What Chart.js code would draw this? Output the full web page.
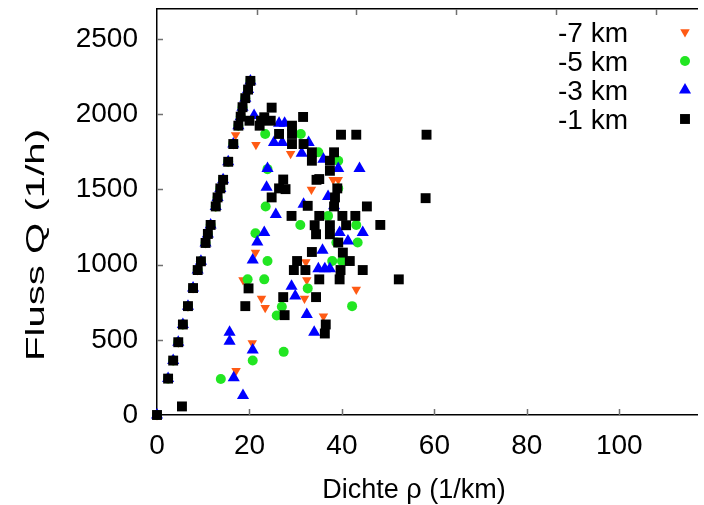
<!DOCTYPE html>
<html lang="de">
<head>
<meta charset="UTF-8">
<title>Fluss-Dichte-Diagramm</title>
<script src="https://cdn.jsdelivr.net/npm/chart.js"></script>
<style>
  body { margin: 0; background: #fff; }
  #wrap { position: relative; width: 704px; height: 505px; }
</style>
</head>
<body>
<div id="wrap"><canvas id="fd"></canvas></div>
<script>
// free flow branch, nearly the same for all four detectors
const freeRho = [0, 2.4, 3.5, 4.6, 5.6, 6.7, 7.8, 8.8, 9.5, 10.5, 11.0, 11.6, 12.7, 13.1, 13.7, 14.3, 15.4, 16.5, 17.6, 18.1, 18.5, 19.1, 19.7, 20.2];
const freeQ = [0, 242, 362, 484, 602, 724, 844, 964, 1022, 1144, 1204, 1264, 1387, 1447, 1507, 1564, 1684, 1802, 1924, 1984, 2047, 2107, 2164, 2222];

// congested points per detector
const rho7 = [17.0, 21.4, 28.9, 33.4, 38.1, 39.2, 21.3, 32.2, 18.6, 32.4, 43.1, 22.6, 31.9, 23.4, 36.0, 20.6, 17.1];
const q7 = [1862, 1797, 1737, 1500, 1564, 1564, 1080, 1017, 897, 897, 835, 775, 775, 713, 657, 478, 295];

const rho5 = [23.4, 31.1, 23.9, 34.9, 39.2, 39.2, 23.5, 31.0, 37.0, 43.1, 43.4, 21.3, 38.8, 23.9, 37.9, 40.0, 19.6, 23.2, 32.6, 42.2, 27.0, 25.9, 27.4, 20.7, 13.8];
const q5 = [1869, 1869, 1635, 1747, 1691, 1507, 1387, 1264, 1324, 1264, 1147, 1209, 1147, 1024, 1024, 1024, 902, 902, 842, 724, 720, 662, 420, 362, 240];

const rho3 = [21.0, 26.4, 27.6, 25.3, 27.1, 32.8, 31.3, 23.9, 36.0, 39.2, 43.8, 23.7, 31.7, 37.0, 25.7, 38.3, 23.2, 39.5, 44.5, 21.7, 41.3, 35.8, 20.7, 34.9, 36.3, 37.4, 29.1, 29.9, 32.4, 34.0, 15.7, 15.7, 20.7, 16.6, 18.6];
const q3 = [1991, 1940, 1940, 1813, 1813, 1813, 1740, 1640, 1700, 1640, 1640, 1515, 1402, 1453, 1333, 1391, 1213, 1213, 1213, 1151, 1157, 1095, 1031, 973, 973, 973, 857, 791, 669, 551, 551, 491, 433, 247, 129];

const rho1 = [24.8, 31.6, 20.0, 22.5, 24.6, 23.2, 22.2, 29.2, 26.4, 29.2, 29.2, 31.7, 33.5, 33.5, 38.3, 37.4, 39.8, 43.1, 58.3, 37.4, 35.1, 27.3, 39.0, 27.8, 26.4, 34.5, 24.8, 38.5, 58.1, 32.6, 38.3, 45.4, 29.1, 35.1, 40.1, 42.9, 48.3, 34.1, 37.4, 40.9, 34.4, 37.4, 39.2, 33.5, 40.2, 30.3, 41.7, 29.6, 32.1, 39.7, 44.5, 35.1, 39.5, 52.3, 19.8, 27.3, 34.4, 19.1, 27.6, 36.5, 36.3, 5.4];
const q1 = [2044, 1982, 1957, 1957, 1957, 1980, 1924, 1924, 1869, 1869, 1802, 1802, 1747, 1691, 1747, 1691, 1864, 1864, 1864, 1624, 1569, 1566, 1507, 1502, 1507, 1564, 1447, 1447, 1442, 1391, 1387, 1387, 1324, 1324, 1324, 1324, 1264, 1262, 1262, 1262, 1202, 1202, 1147, 1084, 1080, 1024, 1024, 964, 964, 964, 964, 902, 902, 902, 842, 784, 784, 724, 664, 602, 542, 57];

const seriesNames = ['-7 km', '-5 km', '-3 km', '-1 km'];
const xTickValues = [0, 20, 40, 60, 80, 100];
const yTickValues = [0, 500, 1000, 1500, 2000, 2500];
const topTickValues = [0, 20, 40, 60, 80, 100];

const FONT = '"Liberation Sans", Arial, sans-serif';

function pts(rho, q) {
    return freeRho.map((r, i) => ({ x: r, y: freeQ[i] }))
        .concat(rho.map((r, i) => ({ x: r, y: q[i] })));
}

const styles = [
    { color: '#ff5a14', pointStyle: 'triangle', radius: 5.5, rotation: 180 },
    { color: '#22e622', pointStyle: 'circle', radius: 5, rotation: 0 },
    { color: '#0000ff', pointStyle: 'triangle', radius: 7, rotation: 0 },
    { color: '#000000', pointStyle: 'rect', radius: 7, rotation: 0 }
];
const allData = [pts(rho7, q7), pts(rho5, q5), pts(rho3, q3), pts(rho1, q1)];

const datasets = seriesNames.map((name, i) => ({
    label: name,
    data: allData[i],
    order: 4 - i,          // -1 km drawn on top
    clip: false,
    pointStyle: styles[i].pointStyle,
    pointRadius: styles[i].radius,
    pointRotation: styles[i].rotation,
    pointBackgroundColor: styles[i].color,
    pointBorderWidth: 0,
    pointHoverRadius: styles[i].radius
}));

function fixTicks(values) {
    return function (scale) { scale.ticks = values.map(v => ({ value: v })); };
}

// fixed box sizes, no extra room for half labels
function fitTo(prop, size) {
    return function (s) {
        s[prop] = size;
        s.paddingTop = 0; s.paddingBottom = 0;
        s.paddingLeft = 0; s.paddingRight = 0;
    };
}

const framePlugin = {
    id: 'frame',
    beforeDatasetsDraw(chart) {
        const { ctx, chartArea: a, scales } = chart;
        ctx.save();
        ctx.strokeStyle = '#707070';
        ctx.lineWidth = 1.5;
        ctx.beginPath();
        scales.x.ticks.forEach(t => {
            if (t.value === 0) return;
            const px = Math.round(scales.x.getPixelForValue(t.value)) + 0.5;
            ctx.moveTo(px, a.bottom); ctx.lineTo(px, a.bottom - 6);
        });
        scales.x2.ticks.forEach(t => {
            if (t.value === 0) return;
            const px = Math.round(scales.x2.getPixelForValue(t.value)) + 0.5;
            ctx.moveTo(px, a.top); ctx.lineTo(px, a.top + 6);
        });
        scales.y.ticks.forEach(t => {
            if (t.value === 0) return;
            const py = Math.round(scales.y.getPixelForValue(t.value)) + 0.5;
            ctx.moveTo(a.left, py); ctx.lineTo(a.left + 6, py);
        });
        ctx.stroke();
        ctx.restore();
    },
    afterDraw(chart) {
        const { ctx } = chart;
        ctx.save();
        ctx.fillStyle = '#000';
        ctx.font = '27px ' + FONT;

        // x axis title
        ctx.textAlign = 'center';
        ctx.textBaseline = 'alphabetic';
        ctx.fillText('Dichte ρ (1/km)', 414, 498);

        // y axis title (stretched along its length like the original)
        const yTitle = 'Fluss Q (1/h)';
        ctx.font = '25px ' + FONT;
        const w = ctx.measureText(yTitle).width;
        ctx.save();
        ctx.translate(44, 245);
        ctx.rotate(-Math.PI / 2);
        ctx.scale(232 / w, 1);
        ctx.fillText(yTitle, 0, 0);
        ctx.restore();

        // legend: text on the left, marker on the right
        ctx.font = '28px ' + FONT;
        ctx.textAlign = 'right';
        seriesNames.forEach((name, i) => {
            const base = 42 + i * 29;
            ctx.fillStyle = '#000';
            ctx.fillText(name, 628, base);
            ctx.fillStyle = styles[i].color;
            Chart.helpers.drawPoint(ctx, {
                pointStyle: styles[i].pointStyle,
                radius: styles[i].radius,
                rotation: styles[i].rotation,
                borderWidth: 0
            }, 685, base - 10);
        });
        ctx.restore();
    }
};

new Chart(document.getElementById('fd'), {
    type: 'scatter',
    data: { datasets: datasets },
    options: {
        responsive: true,
        maintainAspectRatio: false,
        animation: false,
        layout: { padding: 0 },
        plugins: { legend: { display: false }, tooltip: { enabled: false } },
        scales: {
            x: {
                type: 'linear',
                position: 'bottom',
                min: 0,
                max: 116.8,
                afterBuildTicks: fixTicks(xTickValues),
                afterFit: fitTo('height', 90),
                grid: { display: false, drawTicks: false },
                border: { display: true, color: '#000', width: 1.5 },
                ticks: {
                    color: '#000', padding: 14, maxRotation: 0,
                    font: { family: FONT, size: 28 },
                    callback: v => String(v)
                }
            },
            x2: {
                type: 'linear',
                position: 'top',
                min: 0,
                max: 108.3,
                afterBuildTicks: fixTicks(topTickValues),
                afterFit: fitTo('height', 9),
                grid: { display: false, drawTicks: false },
                border: { display: true, color: '#000', width: 1.5 },
                ticks: { display: false }
            },
            y: {
                type: 'linear',
                min: 0,
                max: 2700,
                afterBuildTicks: fixTicks(yTickValues),
                afterFit: fitTo('width', 157),
                grid: { display: false, drawTicks: false },
                border: { display: true, color: '#000', width: 1.5 },
                ticks: {
                    color: '#000', padding: 19,
                    font: { family: FONT, size: 28 },
                    callback: v => String(v)
                }
            }
        }
    },
    plugins: [framePlugin]
});
</script>
</body>
</html>
